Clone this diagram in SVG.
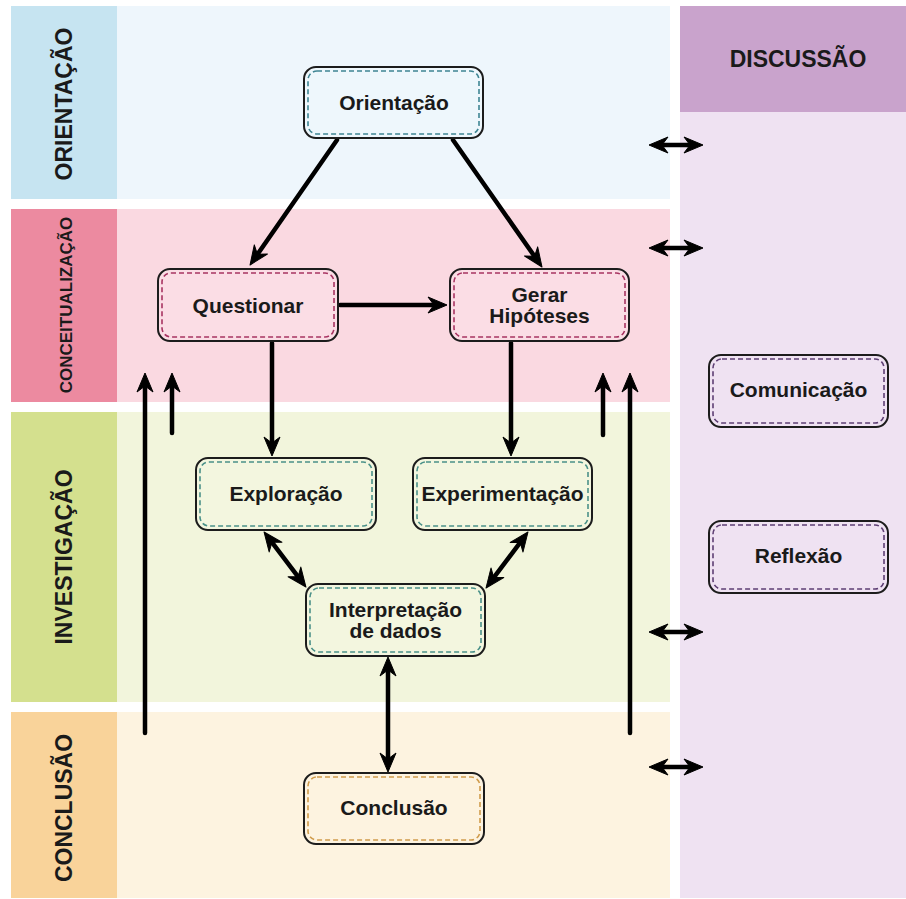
<svg xmlns="http://www.w3.org/2000/svg" width="906" height="899" viewBox="0 0 906 899">
<style>
.lbl{font-family:"Liberation Sans",Arial,sans-serif;font-weight:bold;fill:#1a1a1a}
.nt{font-family:"Liberation Sans",Arial,sans-serif;font-weight:bold;font-size:21px;fill:#1a1a1a;text-anchor:middle}
.side{font-size:23px;text-anchor:middle}
.outer{stroke:#1c1c1c;stroke-width:2}
.inner{fill:none;stroke-width:1.6;stroke-dasharray:5 3}
.c{stroke:#000;stroke-width:4.5;fill:none;stroke-linecap:round}
.one{marker-end:url(#ah)}
.two{marker-start:url(#ah);marker-end:url(#ah)}
</style>
<defs>
<marker id="ah" markerUnits="userSpaceOnUse" markerWidth="22" markerHeight="22" viewBox="-1 -1 22 20" refX="8" refY="8.5" orient="auto-start-reverse">
<path d="M0,0.5 L19,8.5 L0,16.5 L6,8.5 Z" fill="#000" stroke="#000" stroke-width="1" stroke-linejoin="round"/>
</marker>
</defs>
<rect width="906" height="899" fill="#ffffff"/>
<g id="bands">
<rect x="11" y="6" width="106" height="193" fill="#c6e4f1"/>
<rect x="117" y="6" width="553" height="193" fill="#eef6fc"/>
<rect x="11" y="209" width="106" height="193" fill="#ec8aa0"/>
<rect x="117" y="209" width="553" height="193" fill="#fad9e1"/>
<rect x="11" y="412" width="106" height="290" fill="#d4e08e"/>
<rect x="117" y="412" width="553" height="290" fill="#f2f5dc"/>
<rect x="11" y="712" width="106" height="186" fill="#f9d39a"/>
<rect x="117" y="712" width="553" height="186" fill="#fdf3e0"/>
<rect x="680" y="6" width="226" height="892" fill="#efe2f2"/>
<rect x="680" y="6" width="226" height="106" fill="#c9a3cc"/>
<text class="lbl side" transform="translate(72,104) rotate(-90)">ORIENTAÇÃO</text>
<text class="lbl" font-size="17" text-anchor="middle" transform="translate(72,305) rotate(-90)">CONCEITUALIZAÇÃO</text>
<text class="lbl side" transform="translate(72,557) rotate(-90)">INVESTIGAÇÃO</text>
<text class="lbl side" transform="translate(72,808) rotate(-90)">CONCLUSÃO</text>
<text class="lbl" font-size="23" text-anchor="middle" x="798" y="67">DISCUSSÃO</text>
</g>
<g id="connectors">
<line class="c one" x1="337" y1="140" x2="256.3" y2="256"/>
<line class="c one" x1="453" y1="140" x2="535.7" y2="258"/>
<line class="c one" x1="340" y1="305" x2="436" y2="305"/>
<line class="c one" x1="272" y1="343" x2="272" y2="445"/>
<line class="c one" x1="511" y1="343" x2="511" y2="445"/>
<line class="c two" x1="270.7" y1="540.7" x2="299.3" y2="578.3"/>
<line class="c two" x1="521.4" y1="540.8" x2="492.6" y2="579.2"/>
<line class="c two" x1="388" y1="668" x2="388" y2="761"/>
<line class="c one" x1="145" y1="733" x2="145" y2="384"/>
<line class="c one" x1="172" y1="433" x2="172" y2="384"/>
<line class="c one" x1="603" y1="435" x2="603" y2="384"/>
<line class="c one" x1="630" y1="733" x2="630" y2="384"/>
<line class="c two" x1="660" y1="145" x2="692" y2="145"/>
<line class="c two" x1="660" y1="248" x2="692" y2="248"/>
<line class="c two" x1="660" y1="632" x2="692" y2="632"/>
<line class="c two" x1="660" y1="767" x2="692" y2="767"/>
</g>
<g id="n-orientacao">
<rect class="outer" x="304" y="67" width="179" height="71" rx="12" fill="#eef7fc"/>
<rect class="inner" x="308" y="71" width="171" height="63" rx="9" stroke="#3f8593"/>
<text class="nt" x="394" y="110">Orientação</text>
</g>
<g id="n-questionar">
<rect class="outer" x="158" y="269" width="180" height="72" rx="12" fill="#fbdde5"/>
<rect class="inner" x="162" y="273" width="172" height="64" rx="9" stroke="#a83462"/>
<text class="nt" x="248" y="313">Questionar</text>
</g>
<g id="n-gerar">
<rect class="outer" x="450" y="269" width="179" height="72" rx="12" fill="#fbdde5"/>
<rect class="inner" x="454" y="273" width="171" height="64" rx="9" stroke="#a83462"/>
<text class="nt" x="539.5" y="302">Gerar</text>
<text class="nt" x="539.5" y="323">Hipóteses</text>
</g>
<g id="n-exploracao">
<rect class="outer" x="196" y="458" width="180" height="72" rx="12" fill="#f3f6df"/>
<rect class="inner" x="200" y="462" width="172" height="64" rx="9" stroke="#4b9189"/>
<text class="nt" x="286" y="501">Exploração</text>
</g>
<g id="n-experimentacao">
<rect class="outer" x="413" y="458" width="179" height="72" rx="12" fill="#f3f6df"/>
<rect class="inner" x="417" y="462" width="171" height="64" rx="9" stroke="#4b9189"/>
<text class="nt" x="502.5" y="501">Experimentação</text>
</g>
<g id="n-interpretacao">
<rect class="outer" x="306" y="584" width="179" height="72" rx="12" fill="#f3f6df"/>
<rect class="inner" x="310" y="588" width="171" height="64" rx="9" stroke="#4b9189"/>
<text class="nt" x="395.5" y="617">Interpretação</text>
<text class="nt" x="395.5" y="638">de dados</text>
</g>
<g id="n-conclusao">
<rect class="outer" x="304" y="773" width="180" height="71" rx="12" fill="#fdf3e0"/>
<rect class="inner" x="308" y="777" width="172" height="63" rx="9" stroke="#d09c4c"/>
<text class="nt" x="394" y="815">Conclusão</text>
</g>
<g id="n-comunicacao">
<rect class="outer" x="709" y="355" width="179" height="72" rx="12" fill="#efe2f2"/>
<rect class="inner" x="713" y="359" width="171" height="64" rx="9" stroke="#5e3f74"/>
<text class="nt" x="798.5" y="397">Comunicação</text>
</g>
<g id="n-reflexao">
<rect class="outer" x="709" y="521" width="179" height="72" rx="12" fill="#efe2f2"/>
<rect class="inner" x="713" y="525" width="171" height="64" rx="9" stroke="#5e3f74"/>
<text class="nt" x="798.5" y="563">Reflexão</text>
</g>
</svg>
